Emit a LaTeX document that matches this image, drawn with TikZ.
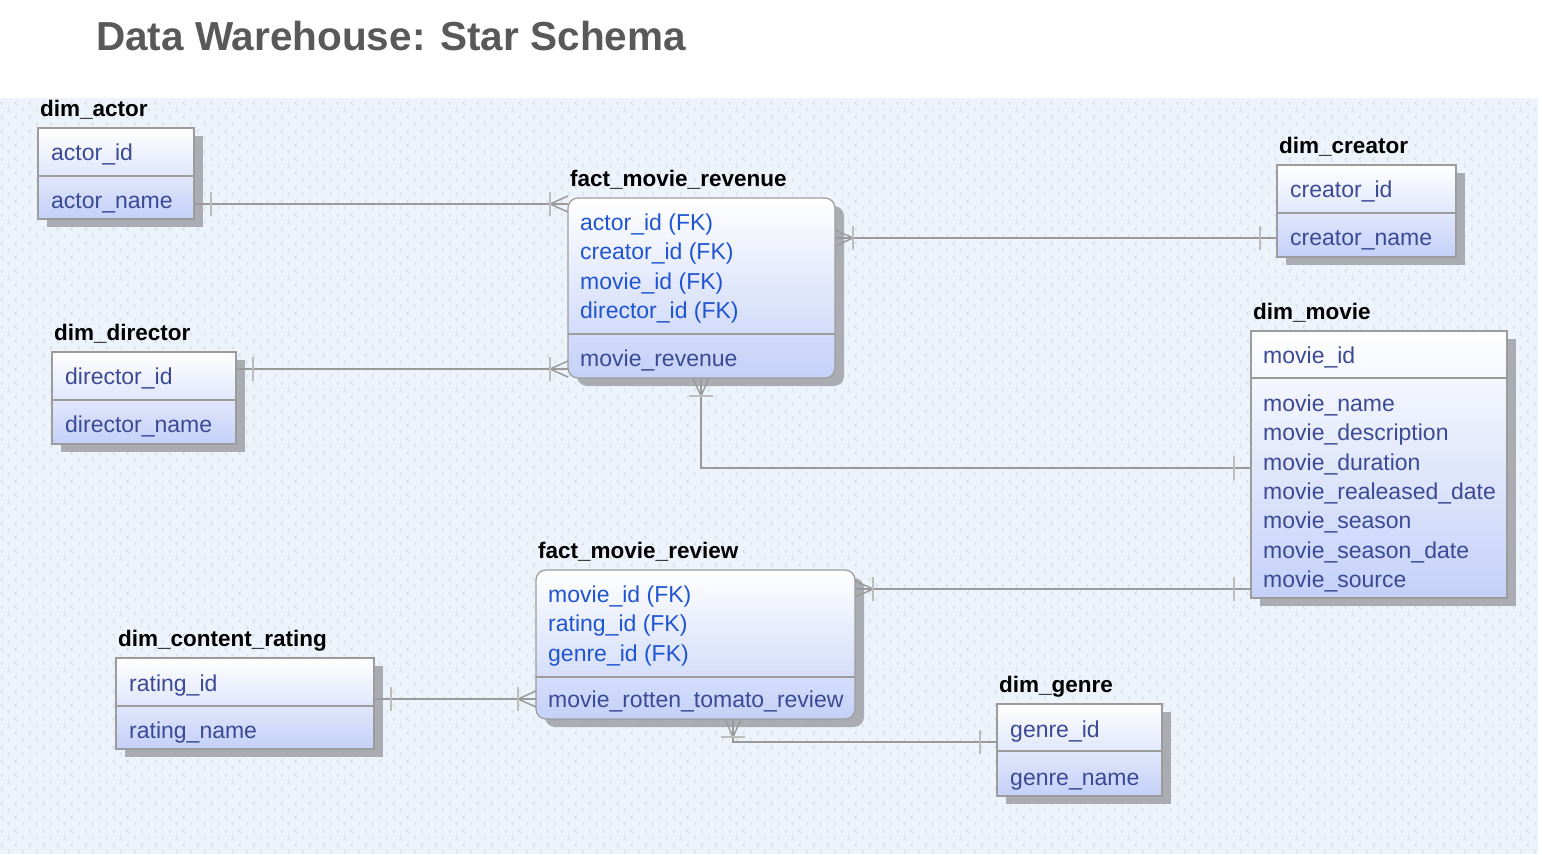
\documentclass[tikz,border=0pt]{standalone}
\usepackage{fontspec}
\setmainfont{Liberation Sans}
\usetikzlibrary{patterns}
\definecolor{bgc}{HTML}{EDF3FA}
\definecolor{markc}{HTML}{D0D8E4}
\definecolor{shadowc}{HTML}{A9ADB3}
\definecolor{bordc}{HTML}{9C9C9C}
\definecolor{connc}{HTML}{9A9A9A}
\definecolor{barc}{HTML}{BDBDBD}
\definecolor{boxbot}{HTML}{C4D0F8}
\definecolor{attrc}{HTML}{3B4A94}
\definecolor{fkc}{HTML}{1F55D0}
\definecolor{headc}{HTML}{595959}
\pgfdeclarepatternformonly{chev}{\pgfqpoint{0pt}{0pt}}{\pgfqpoint{14pt}{14pt}}{\pgfqpoint{14pt}{14pt}}{%
  \pgfsetlinewidth{0.7pt}%
  \pgfpathmoveto{\pgfqpoint{4pt}{12.5pt}}\pgfpathlineto{\pgfqpoint{2pt}{10.5pt}}\pgfpathlineto{\pgfqpoint{4pt}{8.5pt}}%
  \pgfpathmoveto{\pgfqpoint{9.5pt}{5.5pt}}\pgfpathlineto{\pgfqpoint{11.5pt}{3.5pt}}\pgfpathlineto{\pgfqpoint{9.5pt}{1.5pt}}%
  \pgfusepath{stroke}%
}
\tikzset{
  conn/.style={draw=connc, line width=1.5pt},
  barline/.style={draw=barc, line width=2.5pt},
  manyend/.pic={\draw[conn] (0,0) -- (18,0); \draw[conn] (0,-8) -- (18,0) -- (0,8); \draw[barline] (18,-12) -- (18,12);},
  oneend/.pic={\draw[barline] (17,-12) -- (17,12);},
  ent/.style={draw=bordc, line width=1.2pt, inner sep=0pt, outer sep=0pt, anchor=north west},
  enttitle/.style={anchor=base west, inner sep=0pt, font=\fontsize{22.5}{26}\selectfont\bfseries, text=black},
  attr/.style={anchor=base west, inner sep=0pt, font=\fontsize{23}{27}\selectfont, text=attrc},
  fk/.style={attr, text=fkc},
}
\newcommand\ERent[8]{%
  \fill[shadowc, rounded corners=#7] (#2+9,#3+8) rectangle (#4+9,#5+8);
  \shade[rounded corners=#7, top color=white, bottom color=boxbot] (#2,#3) rectangle (#4,#5);
  \draw[bordc, line width=1.2pt] (#2,#6) -- (#4,#6);
  \node[ent, rounded corners=#7, minimum width=#4pt-#2pt, minimum height=#5pt-#3pt] (#1) at (#2,#3) {};
  \node[enttitle] (#1-title) at (#2+2,#3-12) {#8};
}
\begin{document}
\begin{tikzpicture}[x=1pt, y=-1pt]
\useasboundingbox (0,0) rectangle (1542,854);
\fill[white] (0,0) rectangle (1542,854);
\fill[bgc] (0,98) rectangle (1538,854);
\fill[pattern=chev, pattern color=markc] (0,98) rectangle (1538,854);

\node[anchor=base west, inner sep=0pt, font=\fontsize{40.5}{48}\selectfont\bfseries, text=headc] (head) at (96,50) {Data Warehouse: Star Schema};

% level coordinates
\coordinate (yActor) at (0,204);
\coordinate (yCreator) at (0,238);
\coordinate (yDirector) at (0,369);
\coordinate (yMovieA) at (0,468);
\coordinate (yMovieB) at (0,589);
\coordinate (yRating) at (0,699);
\coordinate (yGenre) at (0,742);
\coordinate (xRev) at (701,0);
\coordinate (xReview) at (733,0);

% entities
\ERent{actor}{38}{128}{194}{219}{176}{0pt}{dim\_actor}
\node[attr] (actor-a1) at (51,160) {actor\_id};
\node[attr] (actor-a2) at (51,208) {actor\_name};

\ERent{creator}{1277}{165}{1456}{257}{213}{0pt}{dim\_creator}
\node[attr] (creator-a1) at (1290,197) {creator\_id};
\node[attr] (creator-a2) at (1290,245) {creator\_name};

\ERent{director}{52}{352}{236}{444}{400}{0pt}{dim\_director}
\node[attr] (director-a1) at (65,384) {director\_id};
\node[attr] (director-a2) at (65,432) {director\_name};

\ERent{frev}{568}{198}{835}{378}{334}{10pt}{fact\_movie\_revenue}
\node[fk] (frev-a1) at (580,230) {actor\_id (FK)};
\node[fk] (frev-a2) at (580,259) {creator\_id (FK)};
\node[fk] (frev-a3) at (580,289) {movie\_id (FK)};
\node[fk] (frev-a4) at (580,318) {director\_id (FK)};
\node[attr] (frev-a5) at (580,366) {movie\_revenue};

\ERent{movie}{1251}{331}{1507}{598}{378}{0pt}{dim\_movie}
\node[attr] (movie-a1) at (1263,363) {movie\_id};
\node[attr] (movie-a2) at (1263,411) {movie\_name};
\node[attr] (movie-a3) at (1263,440) {movie\_description};
\node[attr] (movie-a4) at (1263,470) {movie\_duration};
\node[attr] (movie-a5) at (1263,499) {movie\_realeased\_date};
\node[attr] (movie-a6) at (1263,528) {movie\_season};
\node[attr] (movie-a7) at (1263,558) {movie\_season\_date};
\node[attr] (movie-a8) at (1263,587) {movie\_source};

\ERent{review}{536}{570}{855}{719}{677}{10pt}{fact\_movie\_review}
\node[fk] (review-a1) at (548,602) {movie\_id (FK)};
\node[fk] (review-a2) at (548,631) {rating\_id (FK)};
\node[fk] (review-a3) at (548,661) {genre\_id (FK)};
\node[attr] (review-a4) at (548,707) {movie\_rotten\_tomato\_review};

\ERent{rating}{116}{658}{374}{749}{706}{0pt}{dim\_content\_rating}
\node[attr] (rating-a1) at (129,691) {rating\_id};
\node[attr] (rating-a2) at (129,738) {rating\_name};

\ERent{genre}{997}{704}{1162}{796}{751}{0pt}{dim\_genre}
\node[attr] (genre-a1) at (1010,737) {genre\_id};
\node[attr] (genre-a2) at (1010,785) {genre\_name};

% relationship lines
\draw[conn] (actor.east |- yActor) -- (frev.west |- yActor);
\pic at (actor.east |- yActor) {oneend};
\pic[rotate=180] at (frev.west |- yActor) {manyend};

\draw[conn] (frev.east |- yCreator) -- (creator.west |- yCreator);
\pic at (frev.east |- yCreator) {manyend};
\pic[rotate=180] at (creator.west |- yCreator) {oneend};

\draw[conn] (director.east |- yDirector) -- (frev.west |- yDirector);
\pic at (director.east |- yDirector) {oneend};
\pic[rotate=180] at (frev.west |- yDirector) {manyend};

\draw[conn] (frev.south -| xRev) |- (movie.west |- yMovieA);
\pic[rotate=-90] at (frev.south -| xRev) {manyend};
\pic[rotate=180] at (movie.west |- yMovieA) {oneend};

\draw[conn] (review.east |- yMovieB) -- (movie.west |- yMovieB);
\pic at (review.east |- yMovieB) {manyend};
\pic[rotate=180] at (movie.west |- yMovieB) {oneend};

\draw[conn] (rating.east |- yRating) -- (review.west |- yRating);
\pic at (rating.east |- yRating) {oneend};
\pic[rotate=180] at (review.west |- yRating) {manyend};

\draw[conn] (review.south -| xReview) |- (genre.west |- yGenre);
\pic[rotate=-90] at (review.south -| xReview) {manyend};
\pic[rotate=180] at (genre.west |- yGenre) {oneend};
\end{tikzpicture}
\end{document}
